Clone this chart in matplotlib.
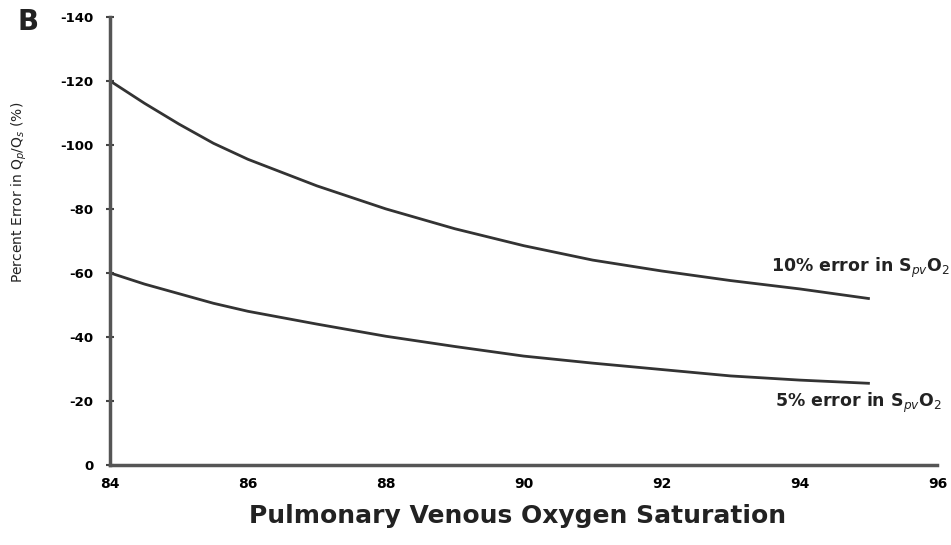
import numpy as np
import matplotlib.pyplot as plt

# values
spvo2 = [84, 84.5, 85, 85.5, 86, 87, 88, 89, 90, 91, 92, 93, 94, 95]
err_10 = [-120, -113, -106.5, -100.5, -95.5, -87.2, -80, -73.8, -68.5, -64, -60.6, -57.6, -55, -52]
err_5 = [-60, -56.5, -53.5, -50.5, -48, -44, -40.2, -37, -34, -31.8, -29.8, -27.8, -26.5, -25.5]

xticks = [84, 86, 88, 90, 92, 94, 96]
yticks = [0, -20, -40, -60, -80, -100, -120, -140]

plt.rcParams['axes.unicode_minus'] = False

fig = plt.figure(figsize=(9.51, 5.45), dpi=100)
ax = fig.add_axes([0.1157, 0.147, 0.87, 0.822])

ax.plot(spvo2, err_10, color='#333333', lw=2)
ax.plot(spvo2, err_5, color='#333333', lw=2)

ax.set_xlim(84, 96)
ax.set_ylim(0, -140)
ax.set_xticks(xticks)
ax.set_yticks(yticks)
ax.set_xticklabels([str(t) for t in xticks], fontsize=10, fontweight='bold')
ax.set_yticklabels([str(t) for t in yticks], fontsize=9.5, fontweight='bold')
ax.tick_params(axis='y', direction='inout', length=6, width=1.5, color='#444444', pad=9)
ax.tick_params(axis='x', length=0, pad=9)

for s in ['top', 'right']:
    ax.spines[s].set_visible(False)
for s in ['left', 'bottom']:
    ax.spines[s].set_linewidth(2.5)
    ax.spines[s].set_color('#555555')

ax.set_xlabel('Pulmonary Venous Oxygen Saturation', fontsize=18, fontweight='bold',
              color='#222222')
ax.xaxis.set_label_coords(0.493, -0.088)
ax.set_ylabel('Percent Error in Q$_p$/Q$_s$ (%)', fontsize=10, color='#222222')
ax.yaxis.set_label_coords(-0.098, 0.609)

fig.text(0.999, 1 - 268 / 545, '10% error in S$_{pv}$O$_2$', fontsize=12.5, fontweight='bold',
         va='center', ha='right', color='#222222')
fig.text(0.991, 1 - 403 / 545, '5% error in S$_{pv}$O$_2$', fontsize=12.5, fontweight='bold',
         va='center', ha='right', color='#222222')

fig.text(0.029, 0.96, 'B', fontsize=20, fontweight='bold', va='center', ha='center',
         color='#222222')

fig.savefig('out.png', dpi=100)
